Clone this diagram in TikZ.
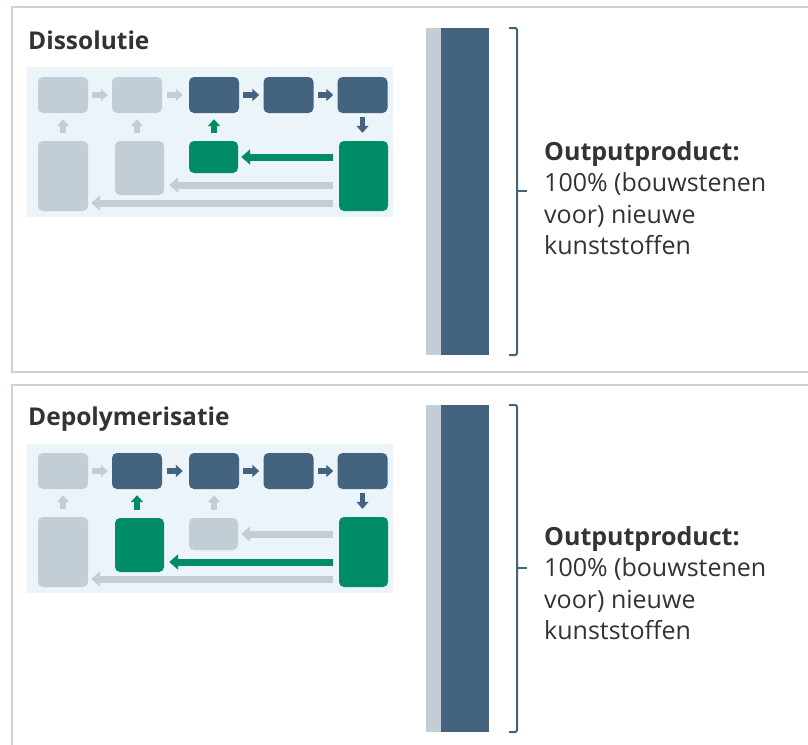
\documentclass[tikz,border=0pt]{standalone}
\usepackage{fontspec}
\setmainfont{Open Sans}
\usetikzlibrary{arrows.meta}

\definecolor{rand}{HTML}{C9D2DA}
\definecolor{achter}{HTML}{EBF4F8}
\definecolor{grijs}{HTML}{C3CDD5}
\definecolor{blauw}{HTML}{43637E}
\definecolor{groen}{HTML}{008C65}
\definecolor{tekst}{HTML}{333333}

\begin{document}
\begin{tikzpicture}[x=1pt,y=-1pt,
    box/.style={rounded corners=5pt,inner sep=0pt,minimum width=50pt,minimum height=36pt},
    kort/.style={line width=5.5pt,-{Triangle[width=12pt,length=7pt]}},
    lang/.style={line width=7pt,-{Triangle[width=15pt,length=9pt]}},
    titel/.style={anchor=base west,inner sep=0pt,text=tekst,font=\fontsize{24.5}{28}\selectfont\bfseries},
    uitleg/.style={anchor=north west,inner sep=0pt,align=left,text=tekst,font=\fontsize{25}{31.5}\selectfont}]
    \path[fill=white,use as bounding box] (0,0) rectangle (808,744);

    %Dissolutie
    \draw[rand,line width=2.5pt] (12,7) rectangle (830,372);
    \node[titel] (t1) at (28,49) {Dissolutie};
    \fill[achter] (27,67) rectangle (393,217);

    \node[box,fill=grijs] (a1) at (63,95) {};
    \node[box,fill=grijs] (a2) at (137,95) {};
    \node[box,fill=blauw] (a3) at (214,95) {};
    \node[box,fill=blauw] (a4) at (288.5,95) {};
    \node[box,fill=blauw] (a5) at (362.5,95) {};
    \node[box,fill=grijs,minimum height=70pt] (b1) at (63,176) {};
    \node[box,fill=grijs,minimum width=49pt,minimum height=54pt] (b2) at (139.5,168) {};
    \node[box,fill=groen,minimum width=49pt,minimum height=32pt] (b3) at (213.5,157) {};
    \node[box,fill=groen,minimum width=49pt,minimum height=70pt] (b5) at (363.5,176) {};

    \draw[kort,grijs,shorten <=4pt,shorten >=4pt] (a1) -- (a2);
    \draw[kort,grijs,shorten <=5pt,shorten >=6pt] (a2) -- (a3);
    \draw[kort,blauw,shorten <=4pt,shorten >=4pt] (a3) -- (a4);
    \draw[kort,blauw,shorten <=4pt,shorten >=4pt] (a4) -- (a5);
    \draw[kort,grijs,shorten <=8pt,shorten >=6pt] (b1) -- (a1);
    \draw[kort,grijs,shorten <=8pt,shorten >=6pt] (b2.north -| a2) -- (a2.south);
    \draw[kort,groen,shorten <=8pt,shorten >=6pt] (b3.north -| a3) -- (a3.south);
    \draw[kort,blauw,shorten <=4pt,shorten >=8pt] (a5.south) -- (a5.south |- b5.north);

    \draw[lang,groen,shorten <=6pt,shorten >=3pt] (b5.west |- b3) -- (b3.east);
    \draw[lang,grijs,shorten <=6pt,shorten >=5pt] (b5.west |- 0,185) -- (b2.east |- 0,185);
    \draw[lang,grijs,shorten <=6pt,shorten >=3pt] (b5.west |- 0,203) -- (b1.east |- 0,203);

    \fill[grijs] (426,28) rectangle (441,355);
    \fill[blauw] (441,28) rectangle (489,355);
    \draw[blauw,line width=2pt,rounded corners=2pt] (509,28) -| (517,355) -- (509,355);
    \draw[blauw,line width=2pt] (517,191) -- (527,191);
    \node[uitleg] (o1) at (544,141) {\textbf{Outputproduct:}\\100\% (bouwstenen\\voor) nieuwe\\kunststoffen};

    %Depolymerisatie
    \begin{scope}[shift={(0,377)}]
    \draw[rand,line width=2.5pt] (12,8) rectangle (830,400);
    \node[titel] (t2) at (28,48) {Depolymerisatie};
    \fill[achter] (27,67) rectangle (393,216);

    \node[box,fill=grijs] (c1) at (63,94) {};
    \node[box,fill=blauw] (c2) at (137,94) {};
    \node[box,fill=blauw] (c3) at (214,94) {};
    \node[box,fill=blauw] (c4) at (288.5,94) {};
    \node[box,fill=blauw] (c5) at (362.5,94) {};
    \node[box,fill=grijs,minimum height=70pt] (d1) at (63,175) {};
    \node[box,fill=groen,minimum width=49pt,minimum height=54pt] (d2) at (139.5,168) {};
    \node[box,fill=grijs,minimum width=49pt,minimum height=32pt] (d3) at (213.5,157) {};
    \node[box,fill=groen,minimum width=49pt,minimum height=70pt] (d5) at (363.5,175) {};

    \draw[kort,grijs,shorten <=4pt,shorten >=4pt] (c1) -- (c2);
    \draw[kort,blauw,shorten <=5pt,shorten >=6pt] (c2) -- (c3);
    \draw[kort,blauw,shorten <=4pt,shorten >=4pt] (c3) -- (c4);
    \draw[kort,blauw,shorten <=4pt,shorten >=4pt] (c4) -- (c5);
    \draw[kort,grijs,shorten <=8pt,shorten >=6pt] (d1) -- (c1);
    \draw[kort,groen,shorten <=8pt,shorten >=6pt] (d2.north -| c2) -- (c2.south);
    \draw[kort,grijs,shorten <=8pt,shorten >=6pt] (d3.north -| c3) -- (c3.south);
    \draw[kort,blauw,shorten <=4pt,shorten >=8pt] (c5.south) -- (c5.south |- d5.north);

    \draw[lang,grijs,shorten <=6pt,shorten >=3pt] (d5.west |- d3) -- (d3.east);
    \draw[lang,groen,shorten <=6pt,shorten >=5pt] (d5.west |- 0,185) -- (d2.east |- 0,185);
    \draw[lang,grijs,shorten <=6pt,shorten >=3pt] (d5.west |- 0,202) -- (d1.east |- 0,202);

    \fill[grijs] (426,28) rectangle (441,355);
    \fill[blauw] (441,28) rectangle (489,355);
    \draw[blauw,line width=2pt,rounded corners=2pt] (509,28) -| (517,355) -- (509,355);
    \draw[blauw,line width=2pt] (517,191) -- (527,191);
    \node[uitleg] (o2) at (544,149) {\textbf{Outputproduct:}\\100\% (bouwstenen\\voor) nieuwe\\kunststoffen};
    \end{scope}
\end{tikzpicture}
\end{document}
